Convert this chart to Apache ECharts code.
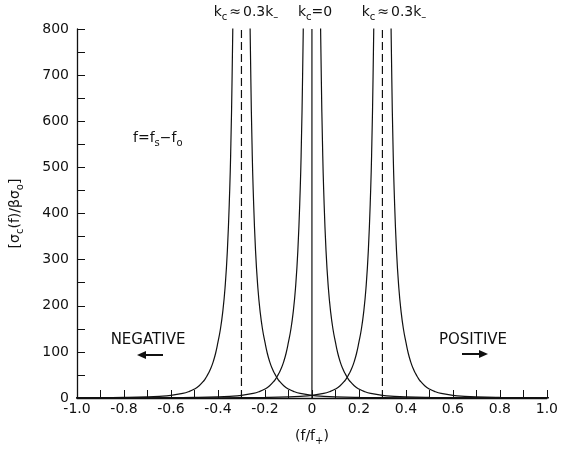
<!DOCTYPE html>
<html>
<head>
<meta charset="utf-8">
<script src="https://cdn.jsdelivr.net/npm/echarts@6/dist/echarts.min.js"></script>
<style>
html,body{margin:0;padding:0;background:#fff;}
#chart{width:561px;height:451px;}
</style>
</head>
<body>
<div id="chart"></div>
<script>
// ---- data ----
const xRange = [-1.0, 1.0];
const xTickStep = 0.1;
const yRange = [0, 800];
const yTickStep = 50;

// centres of the three resonance curves (f/f+)
const peakCenters = [-0.3, 0.0, 0.3];
// line style of the vertical guide at each centre
const guideStyles = ['dashed', 'solid', 'dashed'];

// shape of one resonance curve: distance from its centre -> value
const profileOffsets = [0, 0.02, 0.025, 0.03, 0.035, 0.04, 0.045, 0.05, 0.06, 0.07, 0.08, 0.09, 0.10,
  0.11, 0.12, 0.13, 0.14, 0.15, 0.16, 0.18, 0.20, 0.225, 0.25, 0.30, 0.35, 0.40, 0.50, 0.60, 0.80, 1.00, 1.30];
const profileValues = [5000, 2500, 1700, 1190, 890, 690, 551, 451, 319, 238, 185, 148, 121,
  97, 79, 65, 54, 45, 37.4, 26.6, 19.4, 13.6, 9.9, 5.7, 3.6, 2.4, 1.25, 0.72, 0.3, 0.16, 0.07];

// ---- build chart ----
function curveData(c) {
  const pts = [];
  for (let i = profileOffsets.length - 1; i > 0; i--) pts.push([c - profileOffsets[i], profileValues[i]]);
  pts.push([c, profileValues[0]]);
  for (let i = 1; i < profileOffsets.length; i++) pts.push([c + profileOffsets[i], profileValues[i]]);
  return pts;
}

const FONT = 'DejaVu Sans';
const series = [];
peakCenters.forEach(function (c) {
  series.push({
    type: 'line', data: curveData(c), showSymbol: false, smooth: 0.5, clip: true,
    lineStyle: { color: '#111', width: 1.2 }, silent: true
  });
});
peakCenters.forEach(function (c, i) {
  series.push({
    type: 'line', data: [[c, yRange[0]], [c, yRange[1]]], showSymbol: false, clip: true,
    lineStyle: { color: '#111', width: 1.2, type: guideStyles[i] === 'dashed' ? [8, 4] : 'solid' },
    silent: true
  });
});

const chart = echarts.init(document.getElementById('chart'));
const subRich = {
  n: { fontFamily: FONT, fontSize: 14, lineHeight: 20, verticalAlign: 'middle', fill: '#111', color: '#111' },
  w: { fontFamily: FONT, fontSize: 14, lineHeight: 20, verticalAlign: 'middle', fill: '#111', color: '#111', padding: [0, 2, 0, 2] },
  s: { fontFamily: FONT, fontSize: 10, lineHeight: 10, verticalAlign: 'bottom', fill: '#111', color: '#111' }
};
function rtext(x, y, text, align) {
  return {
    type: 'text', x: x, y: y, silent: true,
    style: { text: text, rich: subRich, align: align || 'center', verticalAlign: 'top', font: '14px ' + FONT, fill: '#111' }
  };
}
function ptext(x, y, text) {
  return {
    type: 'text', x: x, y: y, silent: true,
    style: { text: text, align: 'center', verticalAlign: 'middle', font: '15px ' + FONT, fill: '#111' }
  };
}

chart.setOption({
  animation: false,
  backgroundColor: '#fff',
  grid: { left: 77, right: 11, top: 29, bottom: 52, containLabel: false },
  xAxis: {
    type: 'value', min: xRange[0], max: xRange[1], interval: xTickStep,
    name: '{n|(f/f}{s|+}{n|)}', nameLocation: 'middle', nameGap: 28,
    nameTextStyle: { rich: subRich },
    axisLine: { show: true, onZero: false, lineStyle: { color: '#111', width: 1.3 } },
    axisTick: { show: true, inside: true, length: 8, lineStyle: { color: '#111', width: 1 } },
    axisLabel: {
      margin: 4, color: '#111', fontFamily: FONT, fontSize: 14, showMinLabel: true, showMaxLabel: true,
      formatter: function (v) {
        const k = Math.round(v * 10);
        if (k % 2 !== 0) return '';
        if (k === 0) return '0';
        return (k / 10).toFixed(1);
      }
    },
    splitLine: { show: false }
  },
  yAxis: {
    type: 'value', min: yRange[0], max: yRange[1], interval: yTickStep,
    name: '{n|[σ}{s|c}{n|(f)/βσ}{s|o}{n|]}', nameLocation: 'middle', nameGap: 52, nameRotate: 90,
    nameTextStyle: { rich: subRich },
    axisLine: { show: true, onZero: false, lineStyle: { color: '#111', width: 1.3 } },
    axisTick: { show: true, inside: true, length: 8, lineStyle: { color: '#111', width: 1 } },
    axisLabel: {
      margin: 8, color: '#111', fontFamily: FONT, fontSize: 14,
      formatter: function (v) { return (Math.round(v) % 100 === 0) ? String(Math.round(v)) : ''; }
    },
    splitLine: { show: false }
  },
  series: series,
  graphic: [
    rtext(246, 2, '{n|k}{s|c}{w|≈}{n|0.3k}{s|–}'),
    rtext(315, 2, '{n|k}{s|c}{n|=0}'),
    rtext(394, 2, '{n|k}{s|c}{w|≈}{n|0.3k}{s|–}'),
    rtext(133, 128, '{n|f=f}{s|s}{n|−f}{s|o}', 'left'),
    ptext(148, 340, 'NEGATIVE'),
    ptext(473, 340, 'POSITIVE'),
    { type: 'line', silent: true, shape: { x1: 144, y1: 355, x2: 163, y2: 355 }, style: { stroke: '#111', lineWidth: 2 } },
    { type: 'polygon', silent: true, shape: { points: [[137, 355], [146, 351], [146, 359]] }, style: { fill: '#111' } },
    { type: 'line', silent: true, shape: { x1: 462, y1: 354, x2: 481, y2: 354 }, style: { stroke: '#111', lineWidth: 2 } },
    { type: 'polygon', silent: true, shape: { points: [[488, 354], [479, 350], [479, 358]] }, style: { fill: '#111' } }
  ]
});
</script>
</body>
</html>
